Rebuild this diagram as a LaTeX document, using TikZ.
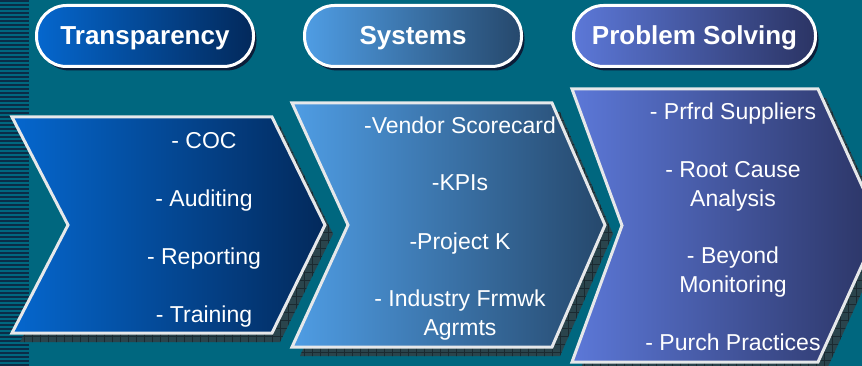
\documentclass[tikz,border=0pt]{standalone}
\usepackage{fontspec}
\setmainfont{Liberation Sans}
\usetikzlibrary{shadows}

\definecolor{bgteal}{HTML}{00677F}
\definecolor{stripe}{HTML}{0B2C47}
\definecolor{rim}{HTML}{E6E8EA}
\definecolor{pillshadow}{HTML}{0C1D38}
\definecolor{chevshadow}{HTML}{2A444C}
\definecolor{shadowgrid}{HTML}{1A2A31}
\definecolor{blueL}{HTML}{0567CE}
\definecolor{blueR}{HTML}{03295B}
\definecolor{skyL}{HTML}{4F9DE4}
\definecolor{skyR}{HTML}{26486C}
\definecolor{violetL}{HTML}{5C78D8}
\definecolor{violetR}{HTML}{2B3464}

\begin{document}
\begin{tikzpicture}[x=1pt,y=-1pt,
  pill/.style={rounded corners=30pt, draw=white, line width=3pt,
    minimum height=61pt, text=white, text height=20pt, text depth=2pt,
    font=\fontsize{26}{30}\selectfont\bfseries,
    drop shadow={shadow xshift=3pt, shadow yshift=-4pt, fill=pillshadow, opacity=1}},
  item/.style={text=white, align=center, anchor=base,
    font=\fontsize{23}{29}\selectfont},
  chevron/.style={draw=rim, line width=3pt, line join=miter}]

\useasboundingbox (0,0) rectangle (862,366);
\clip (0,0) rectangle (862,366);
\fill[bgteal] (0,0) rectangle (862,366);

% striped strip on the left
\foreach \y in {0,4,...,364}
  \fill[stripe] (0,\y) rectangle (29,\y+2);

% shadows under the arrows
\foreach \xl/\xr/\yt/\yb/\nd/\td in {12/272/117/333/56/53, 292/552/103/347/56/53, 572/818/89/362/50/62}{
  \begin{scope}
    \clip (\xl+8,\yt+9) -- (\xr+8,\yt+9) -- (\xr+\td+8,{(\yt+\yb)/2+9}) -- (\xr+8,\yb+9)
      -- (\xl+8,\yb+9) -- (\xl+\nd+8,{(\yt+\yb)/2+9}) -- cycle;
    \fill[chevshadow] (0,0) rectangle (862,366);
    \draw[shadowgrid, line width=0.5pt] (0,0) grid[step=8pt] (862,366);
  \end{scope}
}

% the three arrows
\fill[left color=blueL, right color=blueR] (12,117) -- (272,117) -- (325,225) -- (272,333) -- (12,333) -- (68,225) -- cycle;
\draw[chevron] (12,117) -- (272,117) -- (325,225) -- (272,333) -- (12,333) -- (68,225) -- cycle;

\fill[left color=skyL, right color=skyR] (292,103) -- (552,103) -- (605,225) -- (552,347) -- (292,347) -- (348,225) -- cycle;
\draw[chevron] (292,103) -- (552,103) -- (605,225) -- (552,347) -- (292,347) -- (348,225) -- cycle;

\fill[left color=violetL, right color=violetR] (572,89) -- (818,89) -- (880,225.5) -- (818,362) -- (572,362) -- (622,225.5) -- cycle;
\draw[chevron] (572,89) -- (818,89) -- (880,225.5) -- (818,362) -- (572,362) -- (622,225.5) -- cycle;

% headings
\node[pill, minimum width=217pt, left color=blueL, right color=blueR] (transp) at (145,36) {Transparency};
\node[pill, minimum width=217pt, left color=skyL, right color=skyR] (systems) at (413,36) {Systems};
\node[pill, minimum width=242pt, left color=violetL, right color=violetR] (solving) at (694.5,36) {Problem Solving};

% items (two-line ones sit on the baseline of their last line)
\node[item] (coc) at (204,149) {- COC};
\node[item] (audit) at (204,207) {- Auditing};
\node[item] (report) at (204,264) {- Reporting};
\node[item] (train) at (204,322) {- Training};

\node[item] (vendor) at (460,134) {-Vendor Scorecard};
\node[item] (kpis) at (460,191) {-KPIs};
\node[item] (projk) at (460,250) {-Project K};
\node[item] (frmwk) at (460,335) {- Industry Frmwk\\Agrmts};

\node[item] (prfrd) at (733,120) {- Prfrd Suppliers};
\node[item] (rootc) at (733,207) {- Root Cause\\Analysis};
\node[item] (beyond) at (733,292) {- Beyond\\Monitoring};
\node[item] (purch) at (733,350) {- Purch Practices};
\end{tikzpicture}
\end{document}
